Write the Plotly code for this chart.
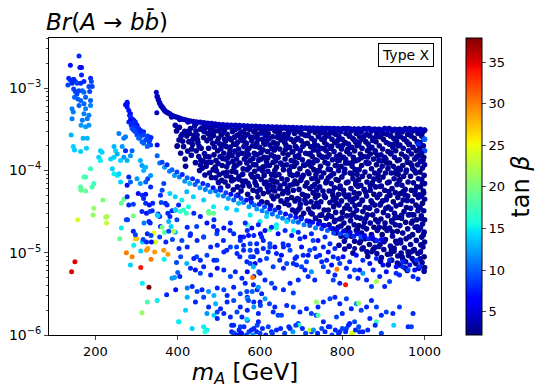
import plotly.graph_objects as go

# Each entry: (m_A [GeV], log10 Br(A->bb), tan beta).

left_peak = [
    (160,-2.61,8),(139,-2.72,7),(162,-2.75,7),(166,-2.75,7),(166,-2.84,8),(135,-2.88,8),(139,-2.90,8),
    (147,-2.89,8),(151,-2.92,8),(133,-2.96,9),(143,-2.94,8),(155,-2.94,9),(164,-2.94,8),(172,-2.92,8),
    (188,-2.88,8),(190,-2.92,9),(184,-2.98,9),(192,-2.98,9),(186,-3.04,9),(147,-3.01,9),(151,-3.04,9),
    (155,-3.07,9),(160,-3.03,9),(168,-3.03,10),(172,-3.05,10),(149,-3.11,10),(157,-3.13,10),(164,-3.15,10),
    (176,-3.11,10),(188,-3.15,10),(172,-3.19,10),(188,-3.21,11),(160,-3.21,10),(176,-3.25,11),(143,-3.25,11),
    (146,-3.29,11),(172,-3.31,11),(184,-3.33,11),(180,-3.37,11),(168,-3.39,11),(143,-3.37,11),(184,-3.45,12),
    (176,-3.47,12),(165,-3.45,12),(141,-3.57,13),(170,-3.61,13),(180,-3.61,13),(146,-3.71,14),(149,-3.75,14),
    (164,-3.77,14),(178,-3.73,14),
]

spike = [
    (277,-3.17,7),(273,-3.20,7),(277,-3.19,7),(277,-3.23,7),(281,-3.27,7),(285,-3.31,7),(283,-3.33,7),
    (285,-3.35,8),(289,-3.37,8),(281,-3.41,8),(285,-3.39,7),(293,-3.39,7),(297,-3.41,8),(289,-3.43,8),
    (287,-3.45,8),(300,-3.45,8),(301,-3.45,7),(297,-3.47,8),(292,-3.47,8),(305,-3.49,8),(289,-3.49,9),
    (303,-3.50,8),(309,-3.51,8),(293,-3.51,9),(297,-3.53,9),(308,-3.54,8),(313,-3.55,8),(317,-3.53,8),
    (317,-3.57,9),(301,-3.57,9),(309,-3.59,9),(327,-3.58,9),(326,-3.61,9),(305,-3.61,10),(322,-3.63,9),
    (332,-3.63,9),(335,-3.60,8),(330,-3.65,9),(313,-3.65,10),(317,-3.67,10),(334,-3.69,9),(326,-3.71,10),
    (348,-3.05,4),(349,-3.30,4),(350,-3.69,6),
]

spike_tail = [
    (257,-3.55,11),(269,-3.61,11),(273,-3.59,11),(265,-3.71,12),(212,-3.76,14),(216,-3.78,14),(245,-3.71,13),
    (249,-3.76,14),(253,-3.80,13),(245,-3.84,14),(237,-3.86,14),(261,-3.88,14),(269,-3.84,12),(277,-3.88,13),
    (285,-3.82,12),(289,-3.76,10),(273,-3.76,8),(309,-3.88,13),(313,-3.94,12),(317,-4.00,13),(322,-3.96,13),
    (327,-4.10,9),(334,-4.06,12),(208,-3.84,14),(212,-3.88,15),(188,-3.98,17),(196,-4.16,17),(176,-4.08,17),
    (164,-4.20,18),(192,-4.20,18),(241,-3.98,14),(245,-4.04,15),(253,-4.06,15),(257,-4.04,14),(261,-4.14,14),
    (281,-4.08,8),(277,-4.18,7),(285,-4.14,10),(301,-4.10,12),(309,-4.16,12),(322,-4.14,10),(334,-4.20,8),
    (172,-4.08,18),(164,-4.22,19),(398,-3.71,3),(398,-3.51,3),
]

colorful = [
    (165,-4.24,19),(176,-4.25,19),(196,-4.46,21),(218,-4.36,20),(194,-4.54,21),(157,-4.60,24),(225,-4.57,22),
    (228,-4.56,22),(227,-4.64,23),(269,-4.35,19),(263,-4.40,19),(292,-4.55,20),(278,-4.60,9),(263,-4.70,15),
    (259,-4.83,19),(293,-4.91,15),(300,-4.83,28),(275,-5.00,30),(289,-5.05,30),(150,-5.11,35),(142,-5.23,35),
    (285,-5.15,14),(310,-5.18,34),(327,-4.95,29),(324,-4.97,29),(335,-5.08,30),(344,-4.99,29),(310,-4.98,14),
    (314,-5.37,15),(330,-5.42,38),(326,-5.60,18),(313,-5.73,21),(350,-5.58,15),(373,-5.51,8),(395,-5.45,7),
    (402,-5.84,15),(346,-4.87,24),(366,-4.97,29),(376,-5.02,29),(367,-5.08,15),(297,-4.83,27),(314,-4.87,14),
    (342,-4.76,25),(362,-4.69,20),(368,-4.75,18),(390,-4.74,22),
    (277,-4.32,8),(281,-4.42,8),(292,-4.41,9),(304,-4.28,7),(314,-4.30,8),(322,-4.29,7),(317,-4.34,8),
    (322,-4.40,8),(331,-4.42,7),(339,-4.40,8),(313,-4.50,8),(324,-4.52,7),(332,-4.50,9),(338,-4.49,8),
    (352,-4.53,7),(356,-4.56,8),(374,-4.42,8),(358,-4.30,8),(360,-4.39,9),(376,-4.52,8),(386,-4.49,8),
    (394,-4.48,7),(402,-4.42,8),(275,-4.60,9),(330,-4.62,8),(333,-4.64,8),(318,-4.64,11),(292,-4.74,8),
    (297,-4.78,9),(316,-4.84,9),(326,-4.77,8),(335,-4.79,9),(324,-4.87,8),(336,-4.87,7),(356,-4.81,9),
    (371,-4.87,8),(378,-4.74,9),(387,-4.84,9),(403,-4.95,8),(397,-5.12,9),(392,-5.30,12),(386,-5.31,12),
    (400,-5.24,10),(350,-4.54,14),(352,-4.55,14),(394,-4.48,14),(378,-4.62,13),(384,-4.68,14),
]

top_curve = [
    (350,-3.10,4),(353,-3.14,4),(356,-3.18,4),(359,-3.21,4),(362,-3.23,4),(365,-3.25,4),(368,-3.27,4),
    (372,-3.29,4),(376,-3.30,4),(380,-3.31,4),(385,-3.33,4),(390,-3.34,4),(396,-3.35,4),(402,-3.36,4),
    (408,-3.37,4),(415,-3.38,4),(422,-3.39,4),(430,-3.40,4),(438,-3.405,4),(446,-3.41,4),(455,-3.415,4),
    (464,-3.42,4),(473,-3.425,4),(482,-3.43,4),(491,-3.435,4),(500,-3.44,4),(510,-3.443,4),(520,-3.447,4),
    (530,-3.45,4),(540,-3.452,4),(550,-3.455,4),(560,-3.457,4),(570,-3.46,4),(580,-3.462,4),(590,-3.464,4),
    (600,-3.466,4),(610,-3.468,4),(620,-3.47,4),(630,-3.472,4),(640,-3.473,4),(650,-3.475,4),(660,-3.476,4),
    (670,-3.478,4),(680,-3.479,4),(690,-3.48,4),(700,-3.482,4),(710,-3.483,4),(720,-3.484,4),(730,-3.485,4),
    (740,-3.487,4),(750,-3.488,4),(760,-3.489,4),(770,-3.49,4),(780,-3.491,4),(790,-3.492,4),(800,-3.493,4),
    (810,-3.494,4),(820,-3.495,4),(830,-3.496,4),(840,-3.497,4),(850,-3.498,4),(860,-3.499,4),(870,-3.50,4),
    (880,-3.50,4),(890,-3.501,4),(900,-3.502,4),(910,-3.503,4),(920,-3.504,4),(930,-3.505,4),(940,-3.505,4),
    (950,-3.506,4),(960,-3.507,4),(970,-3.508,4),(980,-3.508,4),(990,-3.509,4),(1000,-3.51,4),
    (385,-3.35,4),(405,-3.38,4),(425,-3.41,4),(445,-3.43,4),(465,-3.44,4),(485,-3.45,4),(505,-3.46,4),
    (525,-3.465,4),(545,-3.47,4),
]

dense_region = [
    (397,-3.52,3),(403,-3.63,3),(407,-3.79,3),(399,-3.70,2.5),(411,-3.56,3),(394,-3.45,3.5),
    (414,-3.71,3),(418,-3.86,2.5),(422,-3.58,3),(427,-3.65,3),(434,-3.74,2.5),(437,-3.62,3),(431,-3.49,3),(419,-3.95,3),(429,-3.55,2.5),
    (444,-3.52,3),(449,-3.66,2.5),(455,-3.50,3),(460,-3.97,3),(463,-3.60,2.5),(451,-3.83,3),(441,-3.46,3),(447,-3.57,3),(457,-3.73,2.5),(462,-3.89,3),(453,-4.00,3),(445,-3.76,3),
    (467,-3.48,3),(471,-3.64,2.5),(479,-3.50,3),(475,-3.73,3),(469,-3.95,2.5),(483,-3.56,3),(488,-3.81,2.5),(481,-3.90,3),(473,-3.55,3),(485,-3.67,3),(477,-4.03,3),(468,-3.83,3),(486,-3.99,2.5),(474,-3.46,3),(480,-3.61,2.5),
    (490,-3.52,3),(495,-3.46,3),(499,-3.61,2.5),(505,-3.49,3),(510,-3.69,3),(497,-3.76,2.5),(493,-3.88,3),(503,-3.83,3),(508,-3.94,2.5),(501,-4.05,3),(492,-4.09,3),(511,-4.03,3),(496,-3.65,3),(506,-3.57,2.5),(512,-3.79,3),(491,-3.96,3),(500,-3.52,3),(507,-4.12,2.5),
    (515,-3.49,3),(520,-3.56,2.5),(524,-3.47,3),(530,-3.63,3),(535,-3.51,2.5),(518,-3.71,3),(527,-3.76,3),(536,-3.68,2.5),(516,-3.86,3),(523,-3.91,3),(532,-3.82,2.5),(537,-3.96,3),(520,-4.02,3),(529,-4.08,2.5),(536,-4.11,3),(515,-4.14,3),(526,-3.61,3),(532,-4.01,2.5),(514,-3.62,3),(522,-4.19,3),(534,-3.89,3),
    (540,-3.50,3),(545,-3.57,2.5),(549,-3.48,3),(555,-3.63,3),(560,-3.53,2.5),(542,-3.68,3),(548,-3.74,3),(556,-3.79,2.5),(561,-3.71,3),(543,-3.86,3),(551,-3.91,2.5),(559,-3.98,3),(541,-4.02,3),(549,-4.07,3),(557,-4.13,2.5),(545,-4.20,3),(554,-4.25,3),(562,-3.86,3),(539,-3.94,2.5),(553,-3.60,3),(546,-4.30,3),(558,-4.19,3),
    (565,-3.49,3),(570,-3.56,2.5),(575,-3.50,3),(580,-3.61,3),(585,-3.53,2.5),(567,-3.67,3),(573,-3.73,3),(582,-3.70,2.5),(586,-3.79,3),(566,-3.83,3),(576,-3.88,2.5),(584,-3.93,3),(569,-3.99,3),(578,-4.05,2.5),(586,-4.09,3),(565,-4.13,3),(574,-4.19,3),(583,-4.24,2.5),(570,-4.29,3),(580,-3.64,3),(568,-3.91,3),(587,-4.01,2.5),(578,-4.34,3),(572,-3.81,3),
    (590,-3.50,3),(596,-3.56,2.5),(601,-3.49,3),(606,-3.62,3),(610,-3.52,2.5),(592,-3.67,3),(599,-3.72,3),(607,-3.75,2.5),(593,-3.81,3),(603,-3.86,3),(610,-3.84,2.5),(590,-3.93,3),(598,-3.98,3),(607,-3.96,2.5),(594,-4.07,3),(603,-4.11,3),(610,-4.06,2.5),(591,-4.18,3),(600,-4.23,3),(608,-4.28,2.5),(595,-4.32,3),(604,-4.38,3),(612,-3.68,3),(588,-3.59,3),(611,-4.16,3),(605,-3.55,9),
    (615,-3.50,3),(620,-3.55,2.5),(626,-3.49,3),(631,-3.59,3),(636,-3.52,2.5),(617,-3.64,3),(624,-3.69,3),(633,-3.66,2.5),(618,-3.77,3),(628,-3.81,3),(635,-3.75,2.5),(616,-3.89,3),(623,-3.94,3),(632,-3.90,2.5),(619,-4.01,3),(628,-4.05,3),(636,-4.00,2.5),(615,-4.14,3),(624,-4.18,3),(633,-4.13,2.5),(620,-4.26,3),(629,-4.31,3),(636,-4.25,2.5),(617,-4.39,3),(626,-4.43,3),(634,-3.83,3),
    (640,-3.50,3),(647,-3.53,2),(653,-3.49,3),(659,-3.56,3),(643,-3.60,3),(651,-3.63,2),(660,-3.66,3),(639,-3.71,3),(648,-3.74,3),(656,-3.79,2),(644,-3.84,3),(661,-3.86,3),(650,-3.91,3),(640,-3.96,2),(657,-3.99,3),(646,-4.05,3),(653,-4.10,3),(641,-4.14,2),(660,-4.16,3),(648,-4.22,3),(655,-4.28,3),(643,-4.31,2),(651,-4.37,3),(660,-4.40,3),(645,-4.45,3),(634,-4.20,3),
    (664,-3.49,3),(671,-3.52,3),(678,-3.50,2),(684,-3.55,3),(667,-3.58,3),(675,-3.62,3),(682,-3.65,2),(663,-3.69,3),(672,-3.72,3),(680,-3.77,3),(668,-3.81,2),(686,-3.83,3),(676,-3.88,3),(665,-3.93,3),(683,-3.95,2),(671,-4.00,3),(679,-4.06,3),(666,-4.11,3),(685,-4.13,2),(673,-4.18,3),(681,-4.24,3),(668,-4.27,3),(677,-4.33,2),(685,-4.37,3),(670,-4.42,3),(679,-4.48,3),(687,-4.51,3),
    (689,-3.50,3),(696,-3.53,2),(703,-3.49,3),(709,-3.57,3),(692,-3.61,3),(700,-3.64,3),(707,-3.68,2),(690,-3.73,3),(698,-3.76,3),(711,-3.79,3),(694,-3.84,2),(703,-3.87,3),(689,-3.91,3),(708,-3.94,3),(697,-3.98,2),(691,-4.04,3),(705,-4.06,3),(699,-4.12,3),(690,-4.16,2),(710,-4.19,3),(695,-4.23,3),(703,-4.29,3),(691,-4.34,2),(709,-4.36,3),(698,-4.41,3),(692,-4.48,3),(706,-4.52,3),(700,-4.57,2),
    (714,-3.49,3),(721,-3.52,3),(728,-3.50,3),(734,-3.54,2),(717,-3.57,3),(725,-3.61,3),(732,-3.64,3),(715,-3.67,2),(723,-3.71,3),(730,-3.75,3),(736,-3.70,3),(718,-3.80,3),(727,-3.83,2),(734,-3.87,3),(715,-3.92,3),(724,-3.95,3),(731,-3.99,2),(719,-4.04,3),(736,-4.05,3),(726,-4.10,3),(714,-4.15,2),(733,-4.17,3),(721,-4.22,3),(729,-4.27,3),(716,-4.31,2),(735,-4.33,3),(724,-4.38,3),(731,-4.44,3),(718,-4.47,2),(727,-4.53,3),(735,-4.58,3),(720,-4.62,3),
    (739,-3.50,3),(746,-3.53,2),(753,-3.49,3),(759,-3.55,3),(742,-3.59,3),(750,-3.62,3),(757,-3.66,2),(740,-3.70,3),(748,-3.73,3),(761,-3.76,3),(744,-3.81,2),(753,-3.84,3),(739,-3.88,3),(758,-3.90,3),(747,-3.95,2),(741,-4.00,3),(755,-4.03,3),(749,-4.08,3),(740,-4.13,2),(760,-4.15,3),(745,-4.20,3),(753,-4.25,3),(741,-4.30,2),(759,-4.33,3),(748,-4.38,3),(742,-4.44,3),(756,-4.48,3),(750,-4.54,2),(761,-4.58,3),(744,-4.62,3),(754,-4.67,3),
    (764,-3.49,3),(771,-3.53,3),(778,-3.50,2),(784,-3.56,3),(767,-3.58,3),(775,-3.62,3),(782,-3.66,2),(763,-3.69,3),(772,-3.73,3),(780,-3.77,3),(768,-3.81,2),(786,-3.83,3),(776,-3.87,3),(765,-3.92,3),(783,-3.94,2),(771,-3.99,3),(779,-4.04,3),(766,-4.09,3),(785,-4.11,2),(773,-4.16,3),(781,-4.21,3),(768,-4.25,3),(777,-4.30,2),(785,-4.34,3),(770,-4.39,3),(779,-4.44,3),(766,-4.48,2),(784,-4.51,3),(774,-4.56,3),(781,-4.62,3),(768,-4.66,3),(777,-4.71,2),(785,-4.76,3),
    (789,-3.50,3),(796,-3.53,3),(803,-3.49,2),(809,-3.55,3),(792,-3.59,3),(800,-3.62,3),(807,-3.66,2),(790,-3.70,3),(798,-3.74,3),(811,-3.77,3),(794,-3.81,2),(803,-3.84,3),(789,-3.88,3),(808,-3.91,3),(797,-3.95,2),(791,-4.00,3),(805,-4.03,3),(799,-4.08,3),(790,-4.12,2),(810,-4.15,3),(795,-4.19,3),(803,-4.24,3),(791,-4.29,2),(809,-4.32,3),(798,-4.37,3),(792,-4.42,3),(806,-4.46,3),(800,-4.51,2),(811,-4.55,3),(794,-4.59,3),(804,-4.64,3),(790,-4.69,2),(809,-4.73,3),(797,-4.80,3),(805,-4.86,3),(792,-4.91,3),
    (814,-3.49,3),(821,-3.52,2),(828,-3.50,3),(834,-3.55,3),(817,-3.58,3),(825,-3.61,2),(832,-3.65,3),(815,-3.68,3),(823,-3.72,3),(830,-3.76,2),(836,-3.70,3),(818,-3.80,3),(827,-3.84,3),(834,-3.88,2),(815,-3.91,3),(824,-3.95,3),(831,-3.99,3),(819,-4.03,2),(836,-4.05,3),(826,-4.10,3),(814,-4.14,3),(833,-4.17,2),(821,-4.22,3),(829,-4.27,3),(816,-4.30,3),(835,-4.33,2),(824,-4.38,3),(831,-4.43,3),(818,-4.47,3),(827,-4.52,2),(835,-4.57,3),(820,-4.61,3),(829,-4.66,3),(815,-4.70,2),(834,-4.73,3),(822,-4.80,3),(830,-4.86,3),(817,-4.92,3),
    (839,-3.50,3),(846,-3.53,3),(853,-3.49,2),(859,-3.56,3),(842,-3.59,3),(850,-3.62,3),(857,-3.65,2),(840,-3.69,3),(848,-3.73,3),(861,-3.76,3),(844,-3.80,2),(853,-3.83,3),(839,-3.87,3),(858,-3.90,3),(847,-3.94,2),(841,-3.99,3),(855,-4.02,3),(849,-4.07,3),(840,-4.11,2),(860,-4.14,3),(845,-4.18,3),(853,-4.23,3),(841,-4.28,2),(859,-4.31,3),(848,-4.36,3),(842,-4.41,3),(856,-4.45,3),(850,-4.50,2),(861,-4.54,3),(844,-4.58,3),(854,-4.63,3),(840,-4.67,2),(859,-4.71,3),(847,-4.76,3),(855,-4.83,3),(842,-4.88,2),(851,-4.94,3),(860,-4.99,3),
    (864,-3.49,3),(871,-3.52,3),(878,-3.50,2),(884,-3.55,3),(867,-3.58,3),(875,-3.61,3),(882,-3.65,2),(863,-3.68,3),(872,-3.72,3),(880,-3.76,3),(868,-3.80,2),(886,-3.82,3),(876,-3.86,3),(865,-3.91,3),(883,-3.93,2),(871,-3.98,3),(879,-4.03,3),(866,-4.07,3),(885,-4.10,2),(873,-4.15,3),(881,-4.20,3),(868,-4.24,3),(877,-4.29,2),(885,-4.33,3),(870,-4.37,3),(879,-4.42,3),(866,-4.46,2),(884,-4.49,3),(874,-4.54,3),(881,-4.60,3),(868,-4.64,3),(877,-4.69,2),(885,-4.73,3),(871,-4.78,3),(880,-4.85,3),(866,-4.90,2),(875,-4.96,3),(884,-5.01,3),
    (889,-3.50,3),(896,-3.53,2),(903,-3.49,3),(909,-3.56,3),(892,-3.59,3),(900,-3.62,2),(907,-3.66,3),(890,-3.70,3),(898,-3.74,3),(911,-3.77,2),(894,-3.81,3),(903,-3.84,3),(889,-3.88,3),(908,-3.91,2),(897,-3.95,3),(891,-4.00,3),(905,-4.03,3),(899,-4.08,2),(890,-4.12,3),(910,-4.15,3),(895,-4.19,3),(903,-4.24,2),(891,-4.29,3),(909,-4.32,3),(898,-4.37,3),(892,-4.42,2),(906,-4.46,3),(900,-4.51,3),(911,-4.55,3),(894,-4.59,2),(904,-4.64,3),(890,-4.69,3),(909,-4.73,3),(897,-4.78,2),(905,-4.84,3),(892,-4.90,3),(901,-4.96,3),(910,-5.02,2),(895,-5.06,3),
    (914,-3.49,3),(921,-3.52,3),(928,-3.50,2),(934,-3.55,3),(917,-3.58,3),(925,-3.61,3),(932,-3.65,2),(915,-3.68,3),(923,-3.72,3),(930,-3.76,3),(936,-3.70,2),(918,-3.80,3),(927,-3.84,3),(934,-3.88,3),(915,-3.91,2),(924,-3.95,3),(931,-3.99,3),(919,-4.03,3),(936,-4.05,2),(926,-4.10,3),(914,-4.14,3),(933,-4.17,3),(921,-4.22,2),(929,-4.27,3),(916,-4.30,3),(935,-4.33,3),(924,-4.38,2),(931,-4.43,3),(918,-4.47,3),(927,-4.52,3),(935,-4.57,2),(920,-4.61,3),(929,-4.66,3),(915,-4.70,3),(934,-4.74,2),(922,-4.80,3),(930,-4.86,3),(917,-4.92,3),(926,-4.98,2),(935,-5.04,3),(920,-5.09,3),
    (939,-3.50,3),(946,-3.53,3),(953,-3.49,2),(959,-3.56,3),(942,-3.59,3),(950,-3.62,3),(957,-3.65,2),(940,-3.69,3),(948,-3.73,3),(961,-3.76,3),(944,-3.80,2),(953,-3.83,3),(939,-3.87,3),(958,-3.90,3),(947,-3.94,2),(941,-3.99,3),(955,-4.02,3),(949,-4.07,3),(940,-4.11,2),(960,-4.14,3),(945,-4.18,3),(953,-4.23,3),(941,-4.28,2),(959,-4.31,3),(948,-4.36,3),(942,-4.41,3),(956,-4.45,2),(950,-4.50,3),(961,-4.54,3),(944,-4.58,3),(954,-4.63,2),(940,-4.67,3),(959,-4.71,3),(947,-4.76,3),(955,-4.83,2),(942,-4.88,3),(951,-4.94,3),(960,-4.99,3),(945,-5.05,2),(954,-5.11,3),(940,-5.15,3),
    (964,-3.49,3),(971,-3.52,2),(978,-3.50,3),(984,-3.55,3),(967,-3.58,3),(975,-3.61,2),(982,-3.65,3),(963,-3.68,3),(972,-3.72,3),(980,-3.76,2),(968,-3.80,3),(986,-3.82,3),(976,-3.86,3),(965,-3.91,2),(983,-3.93,3),(971,-3.98,3),(979,-4.03,3),(966,-4.07,2),(985,-4.10,3),(973,-4.15,3),(981,-4.20,3),(968,-4.24,2),(977,-4.29,3),(985,-4.33,3),(970,-4.37,3),(979,-4.42,2),(966,-4.46,3),(984,-4.49,3),(974,-4.54,3),(981,-4.60,2),(968,-4.64,3),(977,-4.69,3),(985,-4.73,3),(971,-4.78,2),(980,-4.85,3),(966,-4.90,3),(975,-4.96,3),(984,-5.01,2),(970,-5.07,3),(979,-5.13,3),(986,-5.19,3),
    (990,-3.50,3),(996,-3.53,3),(1000,-3.51,2),(993,-3.58,3),(999,-3.62,3),(989,-3.66,2),(997,-3.70,3),(1000,-3.76,9),(992,-3.79,3),(998,-3.84,2),(990,-3.89,3),(1000,-3.93,3),(995,-3.97,3),(989,-4.02,2),(999,-4.06,3),(993,-4.11,3),(1000,-4.16,3),(990,-4.20,2),(997,-4.25,3),(992,-4.31,3),(1000,-4.35,3),(995,-4.40,2),(989,-4.45,3),(998,-4.49,3),(992,-4.55,3),(1000,-4.60,2),(995,-4.65,3),(990,-4.70,3),(999,-4.75,3),(993,-4.81,2),(1000,-4.87,3),(996,-4.93,3),(990,-4.99,3),(999,-5.05,2),(994,-5.12,3),(1000,-5.18,3),(1000,-3.62,10),(985,-3.68,8),
]

dense_fill = [
    (404,-3.475,3),(412,-3.645,3),(426,-3.525,3),(433,-3.815,3),(439,-3.575,3),(452,-3.705,3),(458,-3.485,3),
    (465,-3.795,3),(472,-3.905,3),(478,-3.605,3),(484,-3.475,3),(489,-3.715,3),(494,-4.005,3),(502,-3.675,3),
    (509,-3.855,3),(513,-3.535,3),(519,-3.955,3),(525,-3.805,3),(531,-4.125,3),(538,-3.595,3),(544,-3.935,3),
    (548,-4.105,3),(443,-3.905,3),(466,-4.055,3),(499,-4.145,3),(528,-3.715,3),
    (553,-3.535,3),(561,-3.645,3),(568,-3.775,3),(577,-3.595,3),(589,-3.705,3),(597,-3.875,3),(604,-3.535,3),
    (613,-3.945,3),(622,-3.615,3),(629,-3.735,3),(637,-4.065,3),(644,-3.565,3),(558,-4.045,3),(571,-4.155,3),
    (583,-3.855,3),(593,-4.255,3),(618,-4.205,3),(633,-4.345,3),(547,-3.805,3),(609,-3.665,3),
    (654,-3.585,3),(662,-3.745,3),(669,-3.545,3),(676,-3.955,3),(688,-3.625,3),(694,-3.815,3),(702,-4.085,3),
    (713,-3.575,3),(719,-3.895,3),(727,-4.195,3),(733,-3.685,3),(744,-4.005,3),(749,-3.545,3),(658,-4.255,3),
    (666,-4.355,3),(681,-4.165,3),(697,-4.455,3),(709,-4.305,3),(723,-4.515,3),(738,-4.395,3),(741,-3.765,3),
    (686,-3.705,3),(706,-3.935,3),(731,-4.275,3),
    (757,-3.605,3),(763,-3.835,3),(772,-4.065,3),(779,-3.545,3),(788,-3.945,3),(794,-4.215,3),(801,-3.695,3),
    (812,-4.425,3),(818,-3.585,3),(826,-3.895,3),(833,-4.145,3),(841,-3.655,3),(849,-4.365,3),(756,-4.305,3),
    (767,-4.545,3),(783,-4.605,3),(797,-4.675,3),(809,-4.805,3),(822,-4.545,3),(837,-4.715,3),(844,-4.865,3),
    (776,-4.255,3),(806,-3.985,3),(829,-4.345,3),
    (853,-3.585,3),(861,-3.915,3),(868,-4.185,3),(874,-3.635,3),(887,-4.055,3),(893,-4.405,3),(899,-3.555,3),
    (906,-3.865,3),(913,-4.255,3),(921,-4.625,3),(927,-3.675,3),(938,-4.125,3),(944,-4.545,3),(951,-3.615,3),
    (958,-4.365,3),(963,-4.805,3),(969,-3.935,3),(977,-4.245,3),(982,-4.685,3),(988,-3.735,3),(995,-4.155,3),
    (857,-4.585,3),(872,-4.825,3),(889,-4.925,3),(903,-4.695,3),(917,-5.015,3),(933,-4.885,3),(947,-5.075,3),
    (961,-5.035,3),(975,-5.105,3),(991,-4.905,3),(866,-4.455,3),(881,-3.785,3),(929,-4.035,3),(956,-3.995,3),
    (985,-4.445,3),(997,-4.785,3),(912,-4.445,3),
]

dense_fill2 = [
    (563,-3.585,3),(574,-3.965,3),(588,-4.145,3),(602,-3.785,3),(614,-3.575,3),(627,-4.115,3),(638,-3.885,3),
    (649,-4.185,3),(663,-3.615,3),(673,-4.045,3),(684,-3.895,3),(695,-4.355,3),(704,-3.705,3),(716,-4.015,3),
    (729,-3.905,3),(738,-4.235,3),(751,-3.835,3),(762,-4.125,3),(774,-3.705,3),(785,-4.395,3),(793,-3.875,3),
    (804,-4.285,3),(813,-3.745,3),(824,-4.045,3),(835,-4.485,3),(846,-3.845,3),(857,-4.265,3),(866,-3.735,3),
    (877,-4.105,3),(887,-4.625,3),(896,-3.885,3),(907,-4.355,3),(918,-3.785,3),(928,-4.575,3),(937,-3.975,3),
    (948,-4.255,3),(957,-3.845,3),(967,-4.535,3),(976,-4.005,3),(987,-4.295,3),(996,-3.875,3),
    (570,-3.745,3),(581,-4.075,3),(595,-3.625,3),(606,-4.005,3),(619,-3.845,3),(631,-4.235,3),(642,-3.675,3),
    (655,-3.935,3),(667,-4.215,3),(678,-3.775,3),(690,-4.055,3),(701,-3.555,3),(712,-4.395,3),(722,-3.795,3),
    (735,-4.095,3),(746,-4.545,3),(755,-3.735,3),(766,-3.985,3),(778,-4.355,3),(789,-3.635,3),(799,-4.575,3),
    (808,-3.865,3),(819,-4.355,3),(828,-3.625,3),(838,-4.195,3),(851,-4.685,3),(862,-3.835,3),(873,-4.395,3),
    (883,-3.585,3),(892,-4.195,3),(902,-4.865,3),(911,-3.975,3),(922,-4.745,3),(931,-3.605,3),(941,-4.845,3),
    (952,-4.295,3),(962,-3.685,3),(971,-4.615,3),(981,-3.835,3),(992,-4.585,3),(998,-4.275,3),
    (806,-4.955,3),(826,-5.005,3),(848,-4.955,3),(862,-5.045,3),(879,-4.935,3),(893,-5.105,3),(912,-5.145,3),
    (926,-4.945,3),(943,-5.005,3),(958,-5.215,3),(972,-4.975,3),(989,-5.075,3),(999,-5.225,3),(953,-5.185,3),
    (934,-5.125,3),
    (408,-3.585,3),(417,-3.525,3),(424,-3.765,3),(436,-3.685,3),(448,-3.625,3),(456,-3.875,3),(464,-3.525,3),
    (476,-3.835,3),(487,-3.575,3),(498,-3.915,3),(505,-3.735,3),(516,-3.645,3),(521,-3.845,3),(533,-3.525,3),
    (539,-3.765,3),(546,-3.655,3),(482,-4.085,3),(504,-4.215,3),(518,-4.065,3),(535,-4.235,3),(455,-3.935,3),
]

band = [
    (350,-3.82,10),(356,-3.91,11),(362,-3.90,9),(368,-3.96,12),(374,-3.93,8),(380,-4.01,11),(386,-3.99,10),
    (392,-4.06,12),(398,-4.02,9),(404,-4.08,11),(411,-4.05,8),(417,-4.13,12),(423,-4.09,10),(429,-4.16,13),
    (436,-4.10,8),(442,-4.17,10),(448,-4.13,9),(454,-4.21,12),(461,-4.16,8),(467,-4.23,11),(473,-4.18,9),
    (479,-4.26,12),(486,-4.21,7),(492,-4.25,10),(498,-4.30,13),(504,-4.24,8),(511,-4.31,11),(517,-4.27,9),
    (523,-4.34,12),(529,-4.29,7),(536,-4.36,10),(542,-4.31,8),(548,-4.40,13),(554,-4.34,9),(560,-4.39,11),
    (567,-4.36,7),(573,-4.44,12),(579,-4.39,8),(586,-4.42,10),(592,-4.47,12),(598,-4.41,7),(605,-4.49,11),
    (611,-4.44,9),(617,-4.51,12),(624,-4.47,7),(630,-4.53,10),(636,-4.48,8),(643,-4.56,12),(649,-4.51,9),
    (655,-4.58,11),(662,-4.53,7),(668,-4.60,10),(674,-4.55,8),(681,-4.62,12),(687,-4.57,7),(693,-4.63,10),
    (700,-4.59,8),(707,-4.66,11),(714,-4.61,7),(721,-4.67,9),(728,-4.63,7),(735,-4.70,11),(742,-4.65,7),
    (750,-4.71,9),(757,-4.67,6),(764,-4.73,10),(772,-4.70,7),(779,-4.76,9),(787,-4.72,6),(795,-4.77,9),
    (803,-4.74,7),(811,-4.79,10),(819,-4.75,6),(828,-4.80,8),(836,-4.77,6),(845,-4.81,9),(854,-4.79,6),
    (863,-4.83,8),(873,-4.81,6),(884,-4.85,8),(895,-4.84,6),
    (381,-4.28,14),(394,-4.32,14),(410,-4.36,15),(422,-4.26,13),(438,-4.32,14),(463,-4.36,14),(487,-4.44,15),
    (519,-4.46,14),(543,-4.48,14),(576,-4.54,15),(600,-4.62,15),(616,-4.56,14),(640,-4.66,15),(665,-4.62,14),
    (681,-4.73,15),(414,-4.48,16),(406,-4.50,17),(426,-4.44,16),(475,-4.50,18),(487,-4.52,19),(476,-4.52,19),
    (421,-4.52,17),(569,-4.66,17),(624,-4.72,18),(640,-4.70,16),
]

below_band = [
    (366,-4.16,9),(362,-4.24,9),(370,-4.40,8),(381,-4.56,8),(398,-4.60,9),(358,-4.68,8),(394,-4.75,13),
    (410,-4.85,9),(430,-4.79,8),(446,-4.68,9),(463,-4.81,8),(487,-4.68,8),(495,-4.77,9),(511,-4.85,8),
    (527,-4.73,8),(543,-4.93,9),(560,-4.81,8),(576,-4.89,9),(592,-4.97,8),(608,-4.85,8),(624,-4.93,9),
    (640,-5.01,8),(656,-4.89,8),(673,-4.97,9),(689,-5.05,8),(446,-5.05,9),(422,-5.13,13),(495,-5.09,9),
    (519,-4.97,8),(551,-5.05,8),(576,-5.13,9),(600,-5.09,8),(665,-5.13,9),(689,-5.15,8),
    (439,-4.52,8),(455,-4.56,8),(471,-4.64,7),(488,-4.60,8),(496,-4.73,8),(512,-4.70,7),(528,-4.64,8),
    (536,-4.77,8),(552,-4.81,7),(569,-4.73,8),(585,-4.79,8),(601,-4.77,7),(423,-4.69,8),(431,-4.77,8),
    (447,-4.85,8),(463,-4.81,9),(480,-4.93,8),(496,-4.91,8),(512,-4.99,8),(528,-4.93,9),(544,-5.01,8),
    (560,-4.97,8),(577,-5.05,9),(593,-4.99,8),(423,-4.93,8),(407,-5.05,9),(439,-5.07,8),(455,-5.09,8),
    (471,-5.03,9),(488,-5.09,8),
    (564,-4.64,8),(580,-4.70,7),(596,-4.66,8),(612,-4.73,7),(628,-4.69,8),(644,-4.77,7),(661,-4.73,8),
    (677,-4.79,7),(693,-4.75,8),(709,-4.81,7),(725,-4.77,8),(741,-4.85,7),(758,-4.81,8),(572,-4.79,7),
    (604,-4.81,8),(636,-4.93,7),(669,-4.91,8),(701,-4.93,7),(733,-4.95,8),(766,-4.99,7),(782,-4.95,8),
    (588,-5.13,7),(620,-4.99,8),(652,-5.03,7),(685,-5.07,8),(717,-5.03,7),(750,-5.11,8),(774,-5.15,7),
    (790,-5.07,8),(560,-4.91,8),(576,-4.97,9),(592,-4.89,8),(608,-4.95,8),(624,-4.89,9),(657,-4.93,8),
    (705,-5.03,8),(721,-4.97,9),(737,-5.05,8),(584,-5.05,8),(616,-5.07,9),(648,-5.09,8),(681,-5.13,8),
    (632,-5.17,9),(600,-5.25,8),(657,-5.19,8),(713,-5.11,9),(745,-5.03,8),(778,-5.05,8),(794,-5.13,9),
    (754,-4.93,8),(770,-4.89,8),(729,-4.85,9),(697,-4.83,8),(552,-4.85,8),
    (802,-5.05,7),(818,-5.11,8),(834,-5.03,7),(850,-5.09,8),(867,-5.13,7),(883,-5.07,8),(899,-5.15,7),
    (915,-5.09,8),(931,-5.17,7),(947,-5.11,8),(964,-5.15,7),(980,-5.09,8),(810,-5.19,8),(842,-5.21,7),
    (875,-5.21,8),(907,-5.23,7),(939,-5.27,8),(976,-5.21,7),(988,-5.17,8),(984,-5.01,3),(968,-4.99,3),
    (919,-4.97,3),(871,-4.99,3),(830,-4.95,3),
]

lower_cloud = [
    (405,-5.29,8),(431,-5.19,8),(443,-5.21,7),(455,-5.25,9),(463,-5.17,8),(480,-5.27,8),(496,-5.19,7),
    (512,-5.21,8),(528,-5.29,9),(540,-5.23,8),(556,-5.31,8),(569,-5.23,7),(585,-5.29,8),(597,-5.23,9),
    (423,-5.43,11),(435,-5.41,8),(447,-5.47,9),(459,-5.45,8),(475,-5.47,12),(488,-5.52,13),(496,-5.43,8),
    (512,-5.45,9),(520,-5.52,8),(536,-5.42,8),(552,-5.50,9),(569,-5.54,8),(581,-5.47,10),(593,-5.45,8),
    (423,-5.54,13),(443,-5.60,8),(463,-5.54,9),(475,-5.66,8),(492,-5.62,13),(504,-5.68,8),(520,-5.60,8),
    (536,-5.58,9),(552,-5.66,8),(569,-5.56,12),(585,-5.60,8),(601,-5.64,9),(419,-5.70,14),(471,-5.74,12),
    (488,-5.76,14),(496,-5.72,9),(512,-5.74,8),(528,-5.78,8),(544,-5.72,9),(556,-5.78,8),(569,-5.70,8),
    (585,-5.66,12),(403,-5.84,15),(435,-5.92,14),(463,-5.90,15),(471,-5.94,15),(496,-5.80,8),(536,-5.88,8),
    (552,-5.90,9),(569,-5.82,8),(585,-5.92,8),(593,-5.88,9),(536,-5.98,8),(552,-5.98,8),(573,-5.96,9),
    (568,-5.11,8),(584,-5.17,13),(582,-5.30,30),(564,-5.37,8),(568,-5.47,9),(584,-5.39,8),(596,-5.42,12),
    (612,-5.33,8),(628,-5.37,9),(636,-5.43,8),(604,-5.50,8),(572,-5.58,9),(600,-5.60,8),(612,-5.56,12),
    (623,-5.62,9),(632,-5.72,8),(568,-5.81,14),(596,-5.84,8),(620,-5.90,9),(628,-5.96,8),(644,-5.76,9),
    (665,-5.64,8),(657,-5.45,8),(681,-5.49,9),(673,-5.37,8),(693,-5.33,8),(701,-5.17,9),(709,-5.21,8),
    (717,-5.29,8),(725,-5.23,12),(733,-5.33,8),(754,-5.17,9),(762,-5.09,8),(766,-5.23,8),(778,-5.33,9),
    (782,-5.27,8),(794,-5.37,8),(787,-5.20,30),(808,-5.39,34),(818,-5.29,8),(830,-5.21,9),(838,-5.31,8),
    (850,-5.25,12),(859,-5.33,8),(871,-5.41,9),(883,-5.35,22),(891,-5.29,8),(903,-5.41,8),(915,-5.35,9),
    (931,-5.25,8),(947,-5.17,8),(960,-5.21,9),(972,-5.29,8),(984,-5.32,8),(681,-5.66,9),(697,-5.72,8),
    (713,-5.68,8),(725,-5.74,9),(737,-5.76,8),(741,-5.66,8),(737,-5.60,21),(754,-5.60,8),(770,-5.56,9),
    (782,-5.54,8),(794,-5.62,8),(810,-5.56,9),(822,-5.68,8),(834,-5.62,12),(840,-5.61,21),(846,-5.70,9),
    (859,-5.66,8),(871,-5.58,8),(883,-5.66,9),(895,-5.76,8),(907,-5.72,9),(923,-5.74,8),(939,-5.66,9),
    (972,-5.74,8),(968,-5.90,9),(818,-5.86,8),(810,-5.92,9),(794,-5.96,8),(770,-5.90,9),(754,-5.84,8),
    (725,-5.96,8),(693,-5.86,9),(673,-5.92,8),(652,-5.76,9),(636,-5.66,8),(596,-5.74,8),(786,-5.78,9),
    (800,-5.74,8),(830,-5.84,9),(842,-5.96,8),(867,-5.80,8),(741,-5.76,18),(883,-5.84,17),(695,-5.88,17),
    (825,-5.98,24),(721,-5.94,23),
]

bottom_row = [
    (466,-5.96,16),(531,-5.88,8),(531,-5.96,8),(537,-5.98,9),(543,-6.00,8),(549,-5.94,8),(555,-5.98,7),
    (561,-5.90,8),(567,-6.00,9),(579,-5.94,8),(583,-6.00,12),(592,-5.96,8),(600,-5.98,9),(606,-5.92,8),
    (614,-6.00,8),(630,-5.98,9),(640,-5.94,8),(650,-5.92,8),(660,-5.98,9),(670,-5.90,8),(680,-5.96,12),
    (687,-5.88,9),(703,-5.92,8),(711,-5.98,9),(730,-5.94,12),(740,-5.98,8),(750,-5.92,9),(758,-5.96,8),
    (766,-5.90,8),(775,-6.00,9),(783,-5.94,8),(791,-5.98,8),(800,-5.92,9),(808,-5.96,8),(815,-5.88,8),
    (823,-5.98,24),(832,-5.94,8),(840,-5.90,9),(850,-5.96,8),(862,-5.94,8),(880,-5.88,8),(895,-5.98,9),
    (925,-5.88,14),(960,-5.90,8),
]

# drawing order (later groups on top) with marker diameter per group
groups = [(dense_region, 5.6), (dense_fill, 5.6), (dense_fill2, 5.6), (top_curve, 5.5), (band, 5),
          (below_band, 5), (lower_cloud, 5), (bottom_row, 5), (spike_tail, 5), (colorful, 5),
          (left_peak, 5), (spike, 5)]

m_vals, br_vals, tb_vals, sizes = [], [], [], []
for g, sz in groups:
    for mv, lg, tb in g:
        m_vals.append(mv)
        br_vals.append(10 ** lg)
        tb_vals.append(tb)
        sizes.append(sz)

# matplotlib "jet"
jet = [
    [0.0, 'rgb(0,0,128)'], [0.11, 'rgb(0,0,255)'], [0.125, 'rgb(0,0,255)'],
    [0.34, 'rgb(0,219,255)'], [0.35, 'rgb(0,229,246)'], [0.375, 'rgb(20,255,226)'],
    [0.64, 'rgb(238,255,8)'], [0.65, 'rgb(246,246,0)'], [0.66, 'rgb(255,236,0)'],
    [0.89, 'rgb(255,19,0)'], [0.91, 'rgb(232,0,0)'], [1.0, 'rgb(128,0,0)'],
]

x_ticks = [200, 400, 600, 800, 1000]
y_ticks = [1e-6, 1e-5, 1e-4, 1e-3]
y_ticktext = ['10<sup>\u22126</sup>', '10<sup>\u22125</sup>', '10<sup>\u22124</sup>', '10<sup>\u22123</sup>']
cbar_ticks = [5, 10, 15, 20, 25, 30, 35]
minor_vals = [k * 10.0 ** e for e in (-6, -5, -4, -3) for k in range(2, 10)]

fig = go.Figure(go.Scatter(
    x=m_vals, y=br_vals, mode='markers',
    marker=dict(size=sizes, opacity=1, color=tb_vals, colorscale=jet, cmin=2.2, cmax=37.9,
                line=dict(width=0),
                colorbar=dict(
                    x=1.064, xanchor='left', xref='paper', y=0.5, yanchor='middle',
                    len=1, lenmode='fraction', thickness=16, xpad=0, ypad=0,
                    outlinewidth=1, outlinecolor='black',
                    tickvals=cbar_ticks, ticks='outside', ticklen=4,
                    tickfont=dict(size=13, color='black'),
                    title=dict(text='tan <i>\u03b2</i>', side='right',
                               font=dict(size=24, color='black')),
                )),
    showlegend=False, hoverinfo='skip',
))

fig.update_layout(
    width=556, height=392,
    margin=dict(l=49, r=115, t=38, b=57, autoexpand=False),
    paper_bgcolor='white', plot_bgcolor='white',
    font=dict(family='DejaVu Sans', color='black'),
    title=dict(text='<i>Br</i>(<i>A</i> \u2192 <i>b</i><i>b\u0304</i>)',
               x=46 / 556, xref='container', xanchor='left',
               y=1 - 22 / 392, yref='container', yanchor='middle',
               font=dict(size=23, color='black')),
    xaxis=dict(range=[87, 1040], tickvals=x_ticks, ticks='outside', ticklen=4, automargin=False,
               showline=True, linecolor='black', linewidth=1, mirror=True,
               showgrid=False, zeroline=False, tickfont=dict(size=13),
               title=dict(text='<i>m</i><sub><i>A</i></sub> [GeV]', font=dict(size=23), standoff=2)),
    yaxis=dict(type='log', range=[-6, -2.39], tickvals=y_ticks, ticktext=y_ticktext,
               ticks='outside', ticklen=4, automargin=False,
               minor=dict(tickmode='array', tickvals=minor_vals, ticks='outside', ticklen=2,
                          showgrid=False),
               showline=True, linecolor='black', linewidth=1, mirror=True,
               showgrid=False, zeroline=False, tickfont=dict(size=14)),
    annotations=[dict(text='Type X', xref='paper', yref='paper', x=0.982, y=0.983,
                      xanchor='right', yanchor='top', showarrow=False,
                      font=dict(size=14, color='black'), bgcolor='white',
                      bordercolor='black', borderwidth=1, borderpad=3)],
)

fig.write_html('out.html', config={'displayModeBar': False},
               post_script="document.body.style.margin='0px';")
